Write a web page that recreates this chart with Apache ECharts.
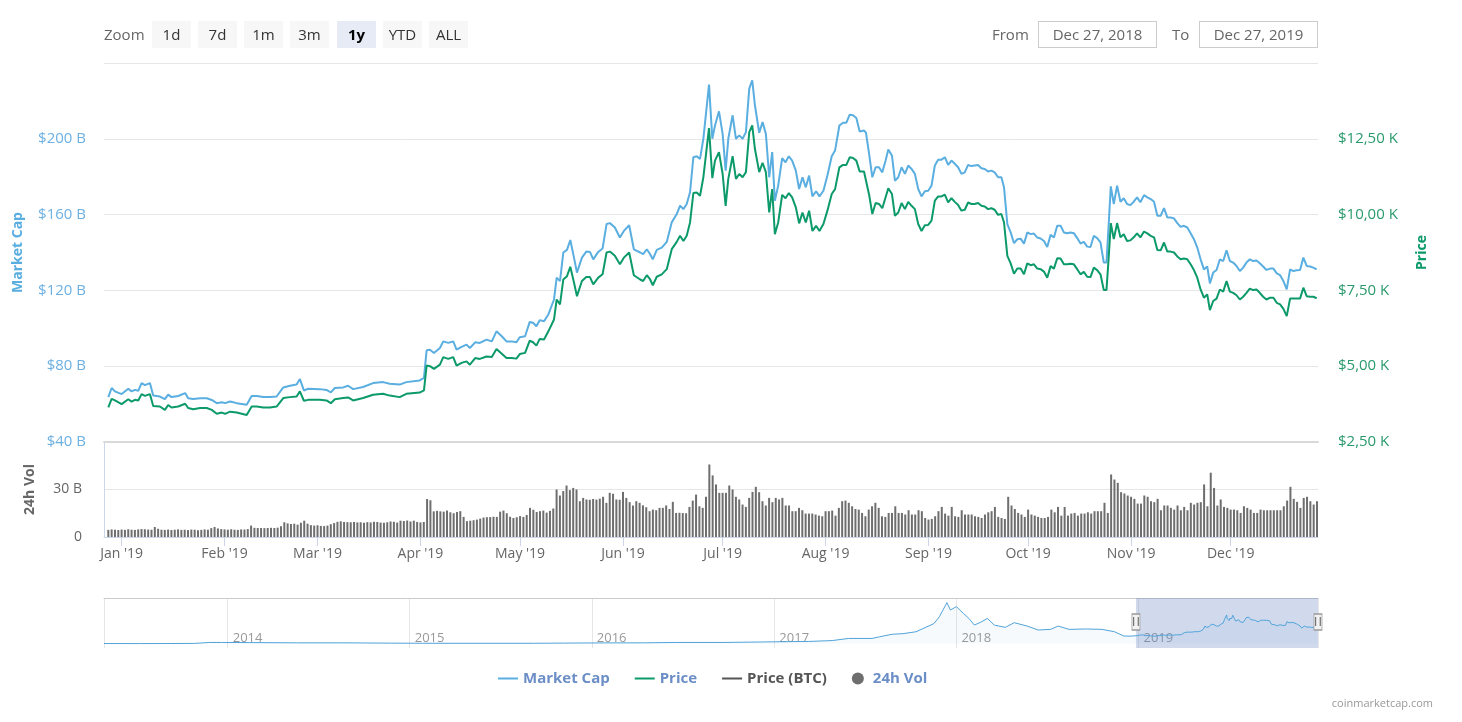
<!DOCTYPE html>
<html>
<head>
<meta charset="utf-8">
<title>Bitcoin - 1y market cap, price and volume</title>
<script src="https://cdn.jsdelivr.net/npm/echarts@6/dist/echarts.min.js"></script>
<style>
  html, body { margin: 0; padding: 0; background: #fff; }
  body { width: 1462px; height: 722px; position: relative; overflow: hidden; font-family: 'Open Sans', sans-serif; }
  #main { position: absolute; left: 0; top: 0; width: 1462px; height: 722px; }
  .lbl { position: absolute; top: 21px; height: 27px; line-height: 27px; font-size: 15px; color: #666; }
  .btn { position: absolute; top: 21px; width: 39px; height: 27px; line-height: 27px; text-align: center;
         background: #f7f7f7; color: #333; font-size: 15px; }
  .btn.on { background: #e6ebf5; font-weight: bold; color: #000; }
  .box { position: absolute; top: 21px; width: 117px; height: 25px; line-height: 25px; border: 1px solid #ccc;
         text-align: center; color: #666; font-size: 15px; }
</style>
</head>
<body>
<div id="main"></div>

<div class="lbl" style="left:104px">Zoom</div>
<div class="btn" style="left:152px">1d</div>
<div class="btn" style="left:198px">7d</div>
<div class="btn" style="left:244px">1m</div>
<div class="btn" style="left:290px">3m</div>
<div class="btn on" style="left:337px">1y</div>
<div class="btn" style="left:383px">YTD</div>
<div class="btn" style="left:429px">ALL</div>

<div class="lbl" style="left:992px">From</div>
<div class="box" style="left:1038px">Dec 27, 2018</div>
<div class="lbl" style="left:1172px">To</div>
<div class="box" style="left:1199px">Dec 27, 2019</div>

<script>
const monthNames = ['Jan', 'Feb', 'Mar', 'Apr', 'May', 'Jun', 'Jul', 'Aug', 'Sep', 'Oct', 'Nov', 'Dec'];

// days after Dec 27, 2018 for the line readings
const days = [
  1.3, 2.3, 3.3, 5.3, 7.3, 8.3, 9.3, 10.3, 11.3, 12.3,
  13.8, 14.8, 16.8, 18.3, 19.3, 20.3, 22.3, 24.4, 25.3, 26.8,
  28.9, 30.9, 32.4, 33.9, 35.4, 36.4, 37.9, 39.9, 42.9, 44.4,
  45.9, 47.9, 49.9, 51.9, 53.9, 55.9, 57.9, 58.9, 60.1, 61.4,
  64.9, 66.9, 68.2, 69.4, 71.9, 73.4, 74.9, 77.9, 80.9, 83.9,
  85.9, 88.9, 90.9, 94.9, 96.2, 97.0, 98.0, 99.2, 101.0, 102.0,
  103.5, 105.0, 106.0, 107.5, 109.0, 110.0, 111.6, 113.0, 115.0, 116.6,
  118.0, 119.6, 121.0, 122.6, 124.0, 125.0, 126.6, 128.0, 129.0, 130.0,
  131.0, 132.3, 133.6, 135.3, 136.1, 137.1, 138.1, 139.2, 140.2, 141.2,
  142.2, 143.7, 145.0, 146.1, 147.1, 148.6, 149.9, 151.1, 152.1, 153.6,
  155.1, 156.3, 157.9, 159.3, 161.2, 162.1, 163.2, 164.2, 165.0, 166.2,
  167.7, 169.2, 170.7, 172.2, 173.2, 174.2, 175.2, 176.2, 177.2, 178.2,
  179.2, 180.2, 181.9, 182.9, 183.7, 184.9, 186.0, 186.9, 187.7, 189.0,
  190.0, 191.0, 192.0, 193.0, 194.0, 194.9, 195.7, 197.0, 198.0, 199.0,
  200.0, 200.9, 201.7, 202.7, 203.9, 204.9, 205.9, 206.9, 208.0, 209.0,
  210.0, 211.0, 212.0, 213.0, 214.1, 215.1, 216.3, 217.5, 218.8, 219.8,
  221.1, 222.2, 223.2, 224.2, 225.2, 226.2, 227.2, 228.5, 229.1, 230.1,
  231.0, 232.0, 233.0, 234.0, 235.0, 235.8, 236.9, 237.8, 238.8, 239.8,
  240.8, 241.8, 242.8, 243.8, 244.8, 245.8, 246.8, 247.8, 248.8, 249.8,
  250.8, 251.8, 252.8, 253.8, 254.8, 255.8, 256.8, 257.8, 258.8, 259.8,
  260.8, 261.8, 262.8, 263.8, 264.8, 265.8, 266.8, 267.8, 268.8, 269.8,
  270.6, 271.6, 272.6, 273.6, 274.6, 275.6, 276.6, 277.6, 278.6, 279.6,
  280.6, 281.6, 282.6, 283.6, 284.6, 285.6, 286.6, 287.6, 288.6, 289.6,
  290.6, 291.6, 292.6, 293.6, 294.6, 295.6, 296.6, 297.6, 298.6, 299.6,
  300.6, 301.4, 302.1, 302.7, 303.6, 304.6, 305.6, 306.6, 307.6, 308.6,
  309.6, 310.6, 311.6, 312.7, 313.7, 314.7, 315.7, 316.7, 317.7, 318.7,
  319.7, 320.7, 321.7, 322.7, 323.7, 324.7, 325.7, 326.7, 327.7, 328.7,
  329.7, 330.7, 331.7, 332.5, 333.5, 334.5, 335.5, 336.5, 337.5, 338.5,
  339.5, 340.5, 341.5, 342.5, 343.5, 344.5, 345.5, 346.5, 347.5, 348.5,
  349.5, 350.6, 351.6, 352.6, 353.6, 354.6, 355.6, 356.6, 357.6, 358.6,
  359.6, 360.6, 361.6, 362.6, 363.6, 364.6
];

// market cap, billions USD
const marketCap = [
  63.7, 68.5, 66.7, 65.3, 68.1, 66.7, 67.5, 67.0, 71.1, 70.0,
  71.1, 64.5, 64.0, 62.6, 65.0, 63.7, 64.3, 65.8, 63.1, 62.7,
  63.1, 63.1, 62.2, 60.5, 61.0, 60.5, 61.4, 60.5, 59.6, 64.3,
  64.3, 63.7, 63.7, 64.0, 68.8, 69.7, 70.3, 73.2, 67.2, 68.1,
  67.9, 67.5, 66.2, 68.5, 68.8, 69.7, 67.9, 69.0, 71.1, 71.6,
  70.7, 70.3, 71.6, 72.5, 73.8, 88.4, 88.7, 87.0, 89.6, 93.1,
  92.3, 93.1, 88.7, 90.2, 91.4, 89.6, 92.6, 92.3, 94.0, 93.1,
  98.4, 95.8, 93.1, 93.1, 92.6, 95.3, 95.8, 103.4, 102.9, 101.1,
  104.3, 103.7, 107.3, 115.2, 126.7, 124.9, 140.0, 141.4, 146.6, 138.2,
  129.4, 137.3, 140.5, 140.3, 136.4, 140.3, 142.1, 155.0, 155.5, 153.2,
  147.9, 151.4, 154.4, 141.7, 140.0, 139.1, 141.7, 139.1, 136.4, 141.4,
  142.6, 145.6, 155.9, 160.3, 164.7, 162.9, 165.6, 171.8, 190.3, 190.8,
  189.4, 200.0, 228.6, 200.0, 207.0, 214.5, 202.6, 183.2, 200.0, 212.4,
  200.0, 201.8, 200.0, 203.5, 226.5, 230.9, 217.7, 203.2, 208.8, 202.6,
  179.7, 193.0, 167.3, 175.3, 189.8, 187.6, 190.8, 188.5, 183.2, 173.5,
  179.7, 174.4, 180.6, 169.6, 172.3, 169.6, 172.6, 180.6, 190.8, 193.8,
  207.0, 208.5, 208.5, 212.7, 212.4, 211.0, 203.9, 204.4, 203.2, 191.2,
  179.7, 185.0, 185.0, 182.3, 188.5, 194.3, 191.2, 177.9, 179.7, 185.0,
  181.5, 185.9, 184.1, 181.5, 173.5, 169.6, 172.3, 172.6, 175.3, 185.9,
  189.0, 189.0, 190.3, 186.2, 188.5, 186.8, 185.0, 181.5, 182.3, 186.2,
  185.6, 185.9, 186.2, 184.5, 184.1, 182.7, 183.2, 182.3, 179.7, 179.7,
  174.4, 155.0, 150.6, 144.9, 147.0, 147.3, 144.7, 150.6, 149.7, 150.0,
  147.9, 147.4, 146.1, 142.9, 149.3, 147.9, 154.1, 154.1, 150.6, 150.2,
  150.6, 150.2, 147.6, 144.7, 145.6, 143.1, 142.9, 148.8, 147.6, 145.3,
  134.7, 134.7, 155.9, 174.9, 165.6, 175.3, 166.8, 168.6, 165.6, 165.0,
  166.8, 169.1, 166.5, 170.3, 169.1, 168.2, 166.8, 159.4, 159.4, 163.4,
  158.5, 158.5, 158.0, 155.5, 153.5, 154.1, 153.2, 150.2, 147.0, 142.6,
  136.4, 131.1, 132.6, 123.7, 129.4, 130.8, 136.4, 135.5, 141.2, 135.5,
  134.7, 132.9, 130.2, 132.0, 134.7, 136.4, 135.5, 135.8, 134.3, 132.6,
  130.8, 131.5, 131.5, 129.0, 128.0, 124.9, 120.5, 131.1, 130.2, 130.6,
  130.8, 137.3, 132.9, 132.6, 132.0, 131.1
];

// price, thousands USD
const price = [
  3.64, 3.92, 3.87, 3.75, 3.91, 3.83, 3.89, 3.87, 4.08, 4.02,
  4.08, 3.69, 3.67, 3.56, 3.72, 3.64, 3.67, 3.76, 3.62, 3.58,
  3.62, 3.62, 3.56, 3.43, 3.47, 3.43, 3.50, 3.47, 3.39, 3.67,
  3.67, 3.64, 3.64, 3.67, 3.95, 3.98, 4.00, 4.17, 3.86, 3.89,
  3.89, 3.87, 3.78, 3.91, 3.95, 3.97, 3.87, 3.95, 4.06, 4.09,
  4.03, 3.98, 4.09, 4.13, 4.20, 5.02, 5.00, 4.91, 5.05, 5.30,
  5.24, 5.30, 5.02, 5.11, 5.16, 5.05, 5.27, 5.24, 5.32, 5.30,
  5.57, 5.41, 5.27, 5.27, 5.25, 5.40, 5.44, 5.84, 5.79, 5.68,
  5.90, 5.88, 6.15, 6.54, 7.20, 7.04, 7.86, 7.97, 8.28, 7.81,
  7.31, 7.81, 7.94, 7.94, 7.70, 7.92, 8.03, 8.75, 8.78, 8.64,
  8.36, 8.58, 8.75, 8.00, 7.86, 7.81, 8.00, 7.86, 7.67, 7.95,
  8.03, 8.20, 8.86, 9.10, 9.30, 9.13, 9.30, 9.74, 10.71, 10.73,
  10.62, 11.23, 12.85, 11.20, 11.78, 12.06, 11.34, 10.29, 11.18, 11.93,
  11.18, 11.34, 11.23, 11.40, 12.72, 12.94, 12.17, 11.40, 11.71, 11.40,
  10.07, 10.84, 9.35, 9.74, 10.65, 10.54, 10.71, 10.57, 10.24, 9.71,
  10.07, 9.74, 10.13, 9.46, 9.63, 9.46, 9.69, 10.13, 10.68, 10.84,
  11.56, 11.64, 11.64, 11.89, 11.87, 11.78, 11.42, 11.42, 11.37, 10.62,
  10.02, 10.38, 10.35, 10.21, 10.57, 10.87, 10.68, 9.96, 10.07, 10.38,
  10.18, 10.42, 10.29, 10.18, 9.69, 9.46, 9.65, 9.66, 9.80, 10.46,
  10.60, 10.60, 10.66, 10.40, 10.54, 10.42, 10.32, 10.13, 10.16, 10.40,
  10.35, 10.35, 10.38, 10.29, 10.27, 10.18, 10.21, 10.16, 9.99, 10.02,
  9.74, 8.64, 8.39, 8.05, 8.22, 8.22, 8.03, 8.39, 8.33, 8.36,
  8.22, 8.20, 8.12, 7.92, 8.30, 8.22, 8.56, 8.55, 8.36, 8.36,
  8.38, 8.36, 8.20, 8.03, 8.11, 7.95, 7.94, 8.25, 8.17, 8.03,
  7.51, 7.51, 8.64, 9.72, 9.19, 9.72, 9.25, 9.35, 9.13, 9.15,
  9.25, 9.38, 9.25, 9.44, 9.38, 9.30, 9.25, 8.83, 8.82, 9.08,
  8.78, 8.78, 8.75, 8.62, 8.53, 8.55, 8.53, 8.36, 8.17, 7.92,
  7.53, 7.26, 7.37, 6.85, 7.15, 7.23, 7.53, 7.46, 7.81, 7.46,
  7.42, 7.34, 7.20, 7.29, 7.42, 7.56, 7.51, 7.53, 7.42, 7.29,
  7.20, 7.26, 7.26, 7.09, 7.04, 6.89, 6.65, 7.23, 7.23, 7.23,
  7.23, 7.59, 7.31, 7.29, 7.29, 7.24
];

// 24h volume, billions USD, one bar per day from Dec 28, 2018
const volume = [
  4.5, 4.8, 4.6, 4.4, 4.7, 4.5, 4.9, 4.6, 4.5, 4.8,
  5.0, 4.9, 4.7, 4.6, 6.3, 5.2, 4.6, 4.5, 4.7, 4.4,
  4.6, 4.8, 4.5, 4.6, 4.4, 4.7, 4.6, 4.3, 4.5, 4.8,
  4.6, 5.6, 6.3, 5.4, 5.0, 4.8, 4.6, 4.9, 4.6, 4.5,
  4.8, 4.7, 5.0, 7.2, 5.8, 5.7, 5.7, 5.6, 5.7, 5.8,
  5.7, 5.9, 6.8, 9.3, 8.6, 8.2, 8.4, 7.8, 9.0, 10.3,
  8.4, 7.5, 7.2, 7.4, 7.0, 6.9, 7.2, 8.1, 8.8, 9.6,
  9.9, 9.5, 9.4, 9.3, 9.5, 9.2, 9.3, 9.0, 9.4, 9.2,
  9.6, 9.5, 9.1, 9.0, 9.3, 9.8, 9.6, 9.1, 10.3, 10.1,
  10.4, 9.8, 10.3, 9.5, 9.2, 9.5, 24.0, 23.2, 16.2, 16.5,
  16.2, 16.0, 16.7, 15.6, 15.0, 15.8, 16.3, 12.7, 10.0, 10.3,
  10.6, 11.0, 11.6, 12.3, 12.5, 12.6, 12.8, 12.7, 16.0, 16.7,
  15.0, 12.8, 12.0, 12.5, 13.2, 12.7, 13.9, 18.4, 17.2, 15.8,
  16.3, 16.7, 15.4, 16.5, 18.0, 30.0, 26.2, 29.0, 32.5, 29.6,
  31.0, 30.0, 22.6, 24.7, 23.7, 23.5, 24.0, 23.6, 24.2, 25.4,
  21.6, 27.9, 27.3, 23.7, 23.5, 28.5, 24.7, 22.0, 19.9, 22.6,
  21.6, 20.0, 18.8, 16.3, 17.3, 16.9, 18.4, 18.4, 19.9, 17.7,
  22.2, 15.2, 15.3, 15.1, 15.0, 19.0, 23.0, 26.8, 19.4, 18.4,
  25.4, 45.8, 38.9, 33.2, 27.9, 27.9, 27.9, 32.5, 30.0, 25.4,
  23.7, 20.5, 19.0, 24.7, 28.5, 31.7, 28.3, 22.6, 19.9, 24.7,
  22.0, 24.7, 23.7, 24.7, 19.9, 19.9, 16.3, 16.3, 18.4, 16.9,
  14.8, 14.8, 14.8, 14.2, 13.5, 13.1, 16.3, 16.3, 16.7, 13.5,
  18.4, 22.6, 23.0, 21.6, 19.4, 17.7, 17.3, 15.2, 13.1, 17.3,
  19.4, 21.6, 18.4, 13.1, 12.7, 15.2, 15.2, 19.4, 15.2, 15.2,
  14.2, 16.9, 14.2, 14.2, 16.9, 16.3, 12.0, 11.0, 11.4, 13.1,
  16.3, 19.0, 14.8, 13.5, 19.0, 13.1, 12.7, 16.9, 14.2, 14.2,
  14.2, 13.1, 12.7, 12.0, 14.2, 15.6, 16.3, 19.0, 12.7, 12.0,
  11.4, 25.4, 19.9, 17.7, 15.2, 14.2, 12.7, 17.3, 14.2, 13.5,
  12.7, 12.0, 12.0, 12.7, 17.3, 15.6, 19.0, 13.5, 19.0, 13.5,
  14.8, 15.2, 13.5, 14.8, 14.8, 15.6, 14.8, 16.3, 16.3, 16.3,
  21.6, 15.2, 39.5, 36.3, 34.2, 28.3, 27.5, 26.2, 25.4, 24.1,
  21.1, 21.1, 26.2, 25.4, 22.6, 22.0, 24.1, 16.9, 19.9, 19.9,
  18.4, 17.3, 19.9, 16.9, 19.0, 16.9, 21.6, 20.5, 21.6, 22.0,
  33.2, 19.4, 40.6, 31.0, 19.9, 23.7, 19.0, 18.4, 17.3, 17.3,
  16.9, 15.2, 19.4, 18.4, 17.3, 15.2, 15.2, 17.3, 16.9, 16.9,
  16.9, 16.9, 16.9, 16.9, 19.4, 23.0, 31.7, 24.1, 22.2, 18.4,
  24.7, 25.4, 22.6, 20.5, 22.6
];

// navigator: older market cap history (billions USD)
const historyDates = [
  '2013-04-28', '2013-07-08', '2013-09-09', '2013-10-27', '2013-11-25', '2013-12-20',
  '2014-02-14', '2014-05-19', '2014-08-22', '2014-11-25',
  '2015-01-26', '2015-06-03', '2015-09-06', '2015-11-07',
  '2016-01-26', '2016-04-16', '2016-06-18', '2016-09-20', '2016-12-09',
  '2017-01-22', '2017-03-11', '2017-04-27', '2017-05-30', '2017-07-16', '2017-07-31',
  '2017-08-25', '2017-09-16', '2017-10-12', '2017-10-26', '2017-11-17', '2017-11-28',
  '2017-12-13', '2017-12-20',
  '2018-01-01', '2018-01-15', '2018-01-26', '2018-02-06', '2018-02-21', '2018-03-04',
  '2018-03-18', '2018-04-09', '2018-04-27', '2018-05-23', '2018-06-14', '2018-07-09',
  '2018-07-24', '2018-08-15', '2018-09-17', '2018-10-20', '2018-11-14', '2018-12-03',
  '2018-12-15'
];
const historyCap = [
  1.5, 1.0, 1.5, 2.5, 10, 10,
  9, 7, 7, 4.5,
  3.5, 3.5, 3.5, 5,
  6.5, 7, 10, 10, 14,
  16, 18, 25, 42, 42, 55,
  75, 80, 95, 120, 160, 215,
  326, 268,
  294, 241, 201, 148, 175, 201,
  148, 130, 167, 140, 109, 114,
  140, 114, 117, 114, 95, 61,
  60
];

const DAY = 86400000;
const t0 = new Date(2018, 11, 27).getTime();
const t1 = new Date(2019, 11, 27).getTime();
const at = d => t0 + d * DAY;

const capData = days.map((d, k) => [at(d), marketCap[k]]);
const priceData = days.map((d, k) => [at(d), price[k]]);
const volData = volume.map((v, k) => [at(k + 1), v]);
const navData = historyDates.map((d, k) => [d, historyCap[k]]).concat(capData);

const FONT = "'Open Sans', sans-serif";
const CAP_COLOR = '#5aaee0';
const PRICE_COLOR = '#0c9a6a';
const LEGEND_BLUE = '#6b8ec6';
const LINE_ICON = 'path://M0,0L20,0L20,2L0,2Z';

const chart = echarts.init(document.getElementById('main'));
chart.setOption({
  animation: false,
  textStyle: { fontFamily: FONT },
  grid: [
    { left: 104, right: 144, top: 63, height: 379 },
    { left: 104, right: 144, top: 442, height: 95 },
    { left: 104, right: 144, top: 598, height: 50 }
  ],
  legend: {
    left: 493,
    top: 666,
    itemWidth: 20,
    itemHeight: 12,
    itemGap: 25,
    selectedMode: false,
    textStyle: { fontSize: 15, fontWeight: 'bold', fontFamily: FONT },
    data: [
      { name: 'Market Cap', icon: LINE_ICON, textStyle: { color: LEGEND_BLUE } },
      { name: 'Price', icon: LINE_ICON, textStyle: { color: LEGEND_BLUE } },
      { name: 'Price (BTC)', icon: LINE_ICON, textStyle: { color: '#555' } },
      { name: '24h Vol', icon: 'circle', textStyle: { color: LEGEND_BLUE } }
    ]
  },
  graphic: [{
    type: 'text',
    right: 29,
    top: 698,
    style: { text: 'coinmarketcap.com', fill: '#999', font: '11px ' + FONT }
  }],
  xAxis: [
    {
      type: 'time', gridIndex: 0, min: t0, max: t1,
      axisLine: { show: true, lineStyle: { color: '#d9d9d9', width: 2 } },
      axisTick: { show: false }, axisLabel: { show: false }, splitLine: { show: false }
    },
    {
      type: 'time', gridIndex: 1, min: t0, max: t1,
      minInterval: 28 * DAY, maxInterval: 31 * DAY,
      axisLine: { lineStyle: { color: '#ccd6eb' } },
      axisTick: { show: true, length: 9, lineStyle: { color: '#ccd6eb' } },
      splitLine: { show: false },
      axisLabel: {
        color: '#666', fontSize: 14, margin: 10,
        formatter: v => {
          const d = new Date(v);
          return monthNames[d.getMonth()] + " '" + String(d.getFullYear()).slice(2);
        }
      }
    },
    {
      type: 'time', gridIndex: 2, min: '2013-04-28', max: t1,
      minInterval: 360 * DAY, maxInterval: 370 * DAY,
      axisLine: { show: false },
      axisTick: { show: false },
      splitLine: { show: true, lineStyle: { color: '#e6e6e6' } },
      axisLabel: {
        inside: true, align: 'left', margin: 3, padding: [0, 0, 0, 5],
        color: '#999', fontSize: 13,
        formatter: v => String(new Date(v).getFullYear())
      }
    },
    {
      type: 'time', gridIndex: 2, position: 'top', min: '2013-04-28', max: t1,
      axisLine: { show: true, lineStyle: { color: '#cccccc' } },
      axisTick: { show: false }, axisLabel: { show: false }, splitLine: { show: false }
    }
  ],
  yAxis: [
    {
      type: 'value', gridIndex: 0, position: 'left', min: 40, max: 240, interval: 40,
      name: 'Market Cap', nameLocation: 'middle', nameGap: 79,
      nameTextStyle: { color: CAP_COLOR, fontWeight: 'bold', fontSize: 14 },
      axisLine: { show: false }, axisTick: { show: false },
      splitLine: { lineStyle: { color: '#e6e6e6' } },
      axisLabel: { color: '#6db0e2', fontSize: 15, margin: 18, showMaxLabel: false, formatter: v => '$' + v + ' B' }
    },
    {
      type: 'value', gridIndex: 0, position: 'right', min: 2.5, max: 15, interval: 2.5,
      name: 'Price', nameLocation: 'middle', nameGap: 97,
      nameTextStyle: { color: PRICE_COLOR, fontWeight: 'bold', fontSize: 14 },
      axisLine: { show: false }, axisTick: { show: false }, splitLine: { show: false },
      axisLabel: {
        color: '#2a9a6d', fontSize: 15, margin: 20, showMaxLabel: false,
        formatter: v => '$' + v.toFixed(2).replace('.', ',') + ' K'
      }
    },
    {
      type: 'value', gridIndex: 1, position: 'left', min: 0, max: 60, interval: 30,
      name: '24h Vol', nameLocation: 'middle', nameGap: 67,
      nameTextStyle: { color: '#666', fontWeight: 'bold', fontSize: 14 },
      axisLine: { show: true, lineStyle: { color: '#ccd6eb' } }, axisTick: { show: false },
      splitLine: { lineStyle: { color: '#e6e6e6' } },
      axisLabel: { color: '#666', fontSize: 14, margin: 22, showMaxLabel: false, formatter: v => v === 0 ? '0' : v + ' B' }
    },
    { type: 'value', gridIndex: 2, min: -34, max: 363, show: false }
  ],
  series: [
    {
      name: 'Market Cap', type: 'line', xAxisIndex: 0, yAxisIndex: 0,
      data: capData, symbol: 'none', color: CAP_COLOR,
      lineStyle: { width: 2, color: CAP_COLOR }
    },
    {
      name: 'Price', type: 'line', xAxisIndex: 0, yAxisIndex: 1,
      data: priceData, symbol: 'none', color: PRICE_COLOR,
      lineStyle: { width: 2, color: PRICE_COLOR }
    },
    {
      name: 'Price (BTC)', type: 'line', xAxisIndex: 0, yAxisIndex: 1,
      data: [], symbol: 'none', color: '#555', lineStyle: { width: 2, color: '#555' }
    },
    {
      name: '24h Vol', type: 'bar', xAxisIndex: 1, yAxisIndex: 2,
      data: volData, barWidth: 2, color: '#6e6e6e',
      itemStyle: { color: '#6e6e6e' }
    },
    {
      name: 'navigator', type: 'line', xAxisIndex: 2, yAxisIndex: 3,
      data: navData, symbol: 'none', silent: true,
      lineStyle: { width: 1, color: '#4fa3d9' },
      areaStyle: { color: 'rgba(79,163,217,0.07)' },
      markArea: {
        silent: true,
        itemStyle: { color: 'rgba(102,133,194,0.3)' },
        data: [[{ xAxis: t0 }, { xAxis: t1 }]]
      },
      markPoint: {
        silent: true,
        symbol: 'rect',
        symbolSize: [8, 16],
        itemStyle: { color: '#f2f2f2', borderColor: '#999', borderWidth: 1 },
        label: { show: true, formatter: '||', color: '#444', fontSize: 8, fontWeight: 'bold' },
        data: [{ coord: [t0, 172] }, { coord: [t1, 172] }]
      }
    }
  ]
});
</script>
</body>
</html>
